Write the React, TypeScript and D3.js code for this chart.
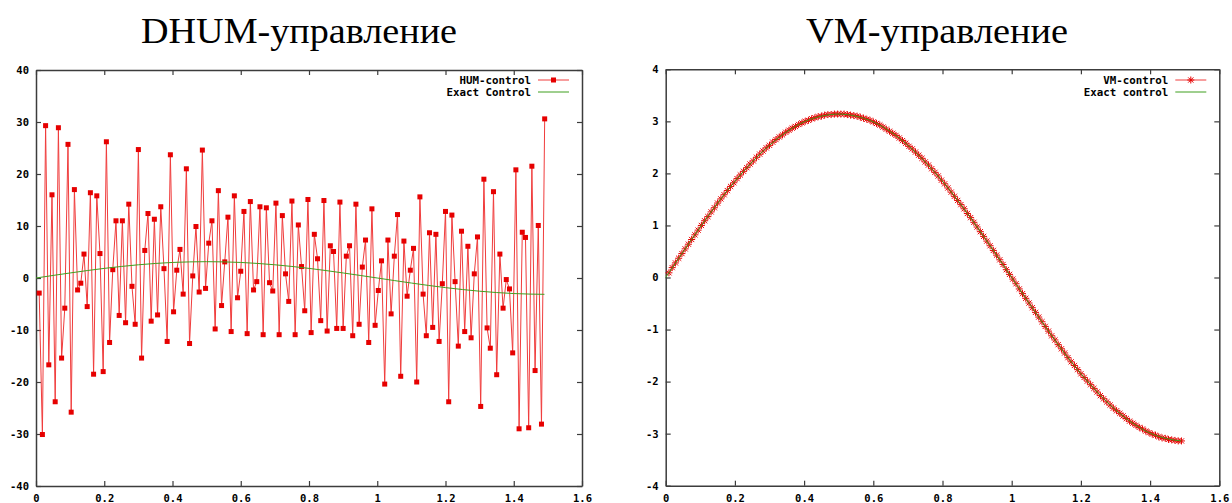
import * as React from 'react';
import * as d3 from 'd3';

const W = 1232;
const H = 503;

// time nodes: t_i = i * STEP, i = 1..159
const STEP = 1.5 / 160;

// DHUM-control
const humControl = [
  -2.9, -30.1, 29.3, -16.7, 16.0, -23.8, 28.9, -15.4, -5.8, 25.7,
  -25.8, 17.0, -2.3, -1.0, 4.6, -5.5, 16.4, -18.5, 15.8, 4.7,
  -18.0, 26.2, -12.4, 1.6, 11.0, -7.2, 11.0, -8.6, 14.2, -1.6,
  -8.9, 24.7, -15.4, 5.3, 12.4, -8.3, 11.3, -7.1, 13.7, 1.8,
  -12.2, 23.7, -6.5, 1.5, 5.5, -3.1, 21.0, -12.6, 0.4, 9.9,
  -2.7, 24.6, -2.0, 6.7, 11.0, -9.8, 16.8, -5.3, 3.1, 11.7,
  -10.3, 15.8, -3.8, 1.3, 12.8, -10.7, 14.7, -2.3, -0.7, 13.7,
  -10.9, 13.5, -0.9, -2.5, 14.4, -10.9, 12.0, 0.8, -4.5, 14.8,
  -10.9, 10.2, 2.2, -6.3, 15.1, -10.5, 8.4, 3.7, -8.2, 14.9,
  -10.2, 6.2, 5.1, -9.7, 14.6, -9.7, 4.2, 6.2, -11.1, 14.2,
  -8.9, 2.1, 7.3, -12.4, 13.3, -9.1, -2.4, 3.3, -20.4, 7.3,
  -6.9, 4.2, 12.2, -18.9, 7.1, -3.5, 1.5, 5.7, -20.0, 15.6,
  -3.1, -11.1, 8.7, -9.5, 8.4, -12.2, -1.1, 12.8, -23.8, 12.1,
  -0.7, -13.1, 9.0, -10.3, 6.1, -11.5, 0.8, 7.9, -24.7, 19.0,
  -9.6, -13.5, 16.6, -18.6, 4.6, -5.8, -0.3, -2.1, -14.4, 20.8,
  -29.0, 8.8, 7.8, -28.8, 21.5, -17.8, 10.1, -28.1, 30.6
];

// VM-control
const vmControl = [
  0.09, 0.19, 0.28, 0.37, 0.46, 0.55, 0.64, 0.73, 0.82, 0.91,
  1.00, 1.09, 1.17, 1.26, 1.34, 1.43, 1.51, 1.59, 1.67, 1.75,
  1.82, 1.90, 1.97, 2.04, 2.11, 2.18, 2.24, 2.31, 2.37, 2.43,
  2.49, 2.54, 2.60, 2.65, 2.70, 2.74, 2.79, 2.83, 2.87, 2.90,
  2.94, 2.97, 3.00, 3.02, 3.05, 3.07, 3.09, 3.10, 3.12, 3.13,
  3.13, 3.14, 3.14, 3.14, 3.14, 3.13, 3.12, 3.11, 3.10, 3.08,
  3.06, 3.04, 3.02, 2.99, 2.96, 2.93, 2.89, 2.85, 2.81, 2.77,
  2.73, 2.68, 2.63, 2.58, 2.52, 2.47, 2.41, 2.35, 2.29, 2.22,
  2.16, 2.09, 2.02, 1.95, 1.87, 1.80, 1.72, 1.64, 1.56, 1.48,
  1.40, 1.32, 1.23, 1.15, 1.06, 0.97, 0.88, 0.79, 0.70, 0.61,
  0.52, 0.43, 0.34, 0.25, 0.15, 0.06, -0.03, -0.12, -0.22, -0.31,
  -0.40, -0.49, -0.58, -0.67, -0.76, -0.85, -0.94, -1.03, -1.12, -1.20,
  -1.29, -1.37, -1.45, -1.54, -1.62, -1.69, -1.77, -1.85, -1.92, -1.99,
  -2.06, -2.13, -2.20, -2.27, -2.33, -2.39, -2.45, -2.51, -2.56, -2.61,
  -2.66, -2.71, -2.76, -2.80, -2.84, -2.88, -2.91, -2.95, -2.98, -3.01,
  -3.03, -3.06, -3.08, -3.09, -3.11, -3.12, -3.13, -3.14, -3.14
];

// exact control, read at coarser nodes
const exactT = [
  0, 0.05, 0.1, 0.15, 0.2, 0.25, 0.3, 0.35, 0.4, 0.45, 0.5, 0.55, 0.6, 0.65, 0.7,
  0.75, 0.8, 0.85, 0.9, 0.95, 1.0, 1.05, 1.1, 1.15, 1.2, 1.25, 1.3, 1.35, 1.4, 1.45, 1.49
];
const exactU = [
  0, 0.49, 0.97, 1.43, 1.85, 2.22, 2.54, 2.80, 2.99, 3.10, 3.14, 3.10, 2.99, 2.80, 2.54,
  2.22, 1.85, 1.43, 0.97, 0.49, 0, -0.49, -0.97, -1.43, -1.85, -2.22, -2.54, -2.80, -2.99, -3.10, -3.14
];

const xTicks = [0, 0.2, 0.4, 0.6, 0.8, 1, 1.2, 1.4, 1.6];
const leftYTicks = [-40, -30, -20, -10, 0, 10, 20, 30, 40];
const rightYTicks = [-4, -3, -2, -1, 0, 1, 2, 3, 4];

const RED = '#e60000';
const RED_LINE = '#f03c3c';
const GREEN = '#3f9f1f';
const AXIS = '#3c3c3c';
const MONO = '"DejaVu Sans Mono", monospace';

const drawPanel = (svg, opts) => {
  const { x0, x1, y0, y1, yDomain, yTicks, series, marker, title, titleX, titleW, legend } = opts;
  const x = d3.scaleLinear().domain([0, 1.6]).range([x0, x1]);
  const y = d3.scaleLinear().domain(yDomain).range([y1, y0]);
  const g = svg.append('g');

  const fmt = d3.format('~g');
  const styleAxis = sel => {
    sel.selectAll('path').attr('stroke', AXIS).attr('stroke-width', 1.5);
    sel.selectAll('line').attr('stroke', AXIS).attr('stroke-width', 1.2);
    sel.selectAll('text')
      .attr('fill', '#000')
      .attr('font-family', MONO)
      .attr('font-weight', 'bold')
      .attr('font-size', 10.5);
  };

  g.append('g').attr('transform', `translate(0,${y1})`)
    .call(d3.axisBottom(x).tickValues(xTicks).tickFormat(fmt).tickSizeInner(-5).tickSizeOuter(0).tickPadding(9))
    .call(styleAxis);
  g.append('g').attr('transform', `translate(0,${y0})`)
    .call(d3.axisTop(x).tickValues(xTicks).tickFormat(() => '').tickSizeInner(-5).tickSizeOuter(0))
    .call(styleAxis);
  g.append('g').attr('transform', `translate(${x0},0)`)
    .call(d3.axisLeft(y).tickValues(yTicks).tickFormat(fmt).tickSizeInner(-5).tickSizeOuter(0).tickPadding(7))
    .call(styleAxis);
  g.append('g').attr('transform', `translate(${x1},0)`)
    .call(d3.axisRight(y).tickValues(yTicks).tickFormat(() => '').tickSizeInner(-5).tickSizeOuter(0))
    .call(styleAxis);
  g.selectAll('.domain').attr('fill', 'none');
  // minus sign as a plain hyphen like the original
  g.selectAll('text').text(function () {
    return d3.select(this).text().replace('\u2212', '-');
  });

  const pts = series.map((v, i) => [(i + 1) * STEP, v]);
  const line = d3.line().x(d => x(d[0])).y(d => y(d[1]));

  g.append('path').datum(pts)
    .attr('d', line)
    .attr('fill', 'none')
    .attr('stroke', RED_LINE)
    .attr('stroke-width', 1)
    .attr('stroke-linejoin', 'round');

  const starPath = 'M-3.5,0H3.5M0,-3.5V3.5M-2.6,-2.6L2.6,2.6M-2.6,2.6L2.6,-2.6';
  const drawMarker = (sel, px, py) => {
    if (marker === 'square') {
      sel.append('rect')
        .attr('x', px - 2.5).attr('y', py - 2.5)
        .attr('width', 5).attr('height', 5)
        .attr('fill', RED);
    } else {
      sel.append('path')
        .attr('d', starPath)
        .attr('transform', `translate(${px},${py})`)
        .attr('stroke', RED)
        .attr('stroke-width', 1)
        .attr('fill', 'none');
    }
  };
  const mg = g.append('g');
  pts.forEach(d => drawMarker(mg, x(d[0]), y(d[1])));

  const exact = exactT.map((t, i) => [t, exactU[i]]);
  g.append('path').datum(exact)
    .attr('d', line.curve(d3.curveMonotoneX))
    .attr('fill', 'none')
    .attr('stroke', GREEN)
    .attr('stroke-width', 1);

  // legend
  const lx1 = x1 - 44;
  const lx2 = x1 - 13;
  const tx = lx1 - 7;
  legend.forEach((label, i) => {
    const ly = 80 + i * 12;
    g.append('text')
      .attr('x', tx).attr('y', ly)
      .attr('dy', '0.35em')
      .attr('text-anchor', 'end')
      .attr('font-family', MONO)
      .attr('font-weight', 'bold')
      .attr('font-size', 10.8)
      .text(label);
    g.append('line')
      .attr('x1', lx1).attr('x2', lx2)
      .attr('y1', ly).attr('y2', ly)
      .attr('stroke', i === 0 ? RED_LINE : GREEN)
      .attr('stroke-width', 1);
    if (i === 0) drawMarker(g, (lx1 + lx2) / 2, ly);
  });

  svg.append('text')
    .attr('x', titleX).attr('y', 43)
    .attr('text-anchor', 'middle')
    .attr('font-family', '"Liberation Serif", serif')
    .attr('font-size', 36)
    .attr('textLength', titleW)
    .attr('lengthAdjust', 'spacingAndGlyphs')
    .text(title);
};

const App = () => {
  const nodeRef = React.useRef(null);

  React.useEffect(() => {
    const svg = d3.select(nodeRef.current);
    svg.selectAll('*').remove();
    svg.append('rect').attr('width', W).attr('height', H).attr('fill', '#fff');

    drawPanel(svg, {
      x0: 36, x1: 582, y0: 70, y1: 486,
      yDomain: [-40, 40], yTicks: leftYTicks,
      series: humControl, marker: 'square',
      title: 'DHUM-управление', titleX: 299, titleW: 316,
      legend: ['HUM-control', 'Exact Control']
    });
    drawPanel(svg, {
      x0: 665.7, x1: 1219.3, y0: 69.3, y1: 485.7,
      yDomain: [-4, 4], yTicks: rightYTicks,
      series: vmControl, marker: 'star',
      title: 'VM-управление', titleX: 937, titleW: 262,
      legend: ['VM-control', 'Exact control']
    });
  }, []);

  return (
    <svg
      ref={nodeRef}
      width={W}
      height={H}
      style={{ position: 'absolute', left: 0, top: 0, display: 'block' }}
    />
  );
};

export default App;
